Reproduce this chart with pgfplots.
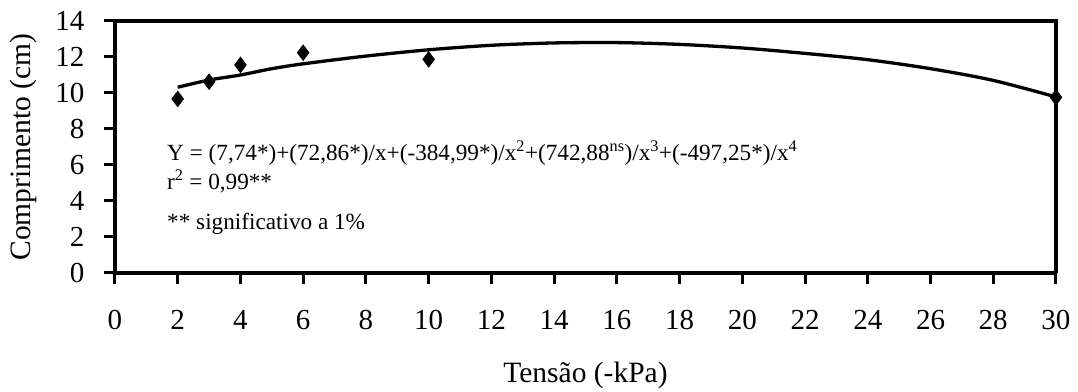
\documentclass[border=0pt]{standalone}
\usepackage{pgfplots}
\pgfplotsset{compat=1.18}
\usepackage{fontspec}
\setmainfont{Liberation Serif}
\begin{document}
\begin{tikzpicture}
\begin{axis}[
  scale only axis=true,
  width=941bp, height=252bp,
  xmin=0, xmax=30, ymin=0, ymax=14,
  xtick={0,2,...,30}, ytick={0,2,...,14},
  tick align=outside,
  major tick length=11bp,
  axis line style={line width=3.5bp},
  every tick/.style={line width=3bp, black},
  tick style={line width=3bp, black},
  axis x line*=bottom,
  axis y line*=left,
  /pgf/number format/assume math mode=true,
  ticklabel style={font=\fontsize{29bp}{33bp}\selectfont},
  xticklabel style={yshift=-23bp},
  yticklabel style={xshift=-16bp},
  xlabel={Tensão (-kPa)},
  ylabel={Comprimento (cm)},
  label style={font=\fontsize{29.5bp}{34bp}\selectfont},
  xlabel style={yshift=-25bp},
  ylabel style={yshift=12bp},
  clip=false,
]
\draw[line width=3.5bp] (rel axis cs:0,1) -- (rel axis cs:1,1) -- (rel axis cs:1,0);
\addplot[black, line width=3.3bp, smooth, tension=0.5] coordinates {
(2,10.32) (3,10.72) (4,11.0) (5,11.35) (6,11.62) (8,12.05) (10,12.4) (12,12.65)
(14,12.78) (16,12.8) (18,12.7) (20,12.5) (22,12.2) (24,11.85) (26,11.35) (28,10.7) (30,9.78)
};
\addplot[only marks, mark=diamond*, mark size=8bp, black] coordinates {
(2,9.67) (3,10.63) (4,11.56) (6,12.24) (10,11.87) (30,9.76)
};
\node[anchor=west, inner sep=0pt, font=\fontsize{23.2bp}{27bp}\selectfont] at (axis cs:1.66,6.67)
  {Y = (7,74*)+(72,86*)/x+(-384,99*)/x\textsuperscript{2}+(742,88\textsuperscript{ns})/x\textsuperscript{3}+(-497,25*)/x\textsuperscript{4}};
\node[anchor=west, inner sep=0pt, font=\fontsize{23.2bp}{27bp}\selectfont] at (axis cs:1.66,5.11)
  {r\textsuperscript{2} = 0,99**};
\node[anchor=west, inner sep=0pt, font=\fontsize{23.2bp}{27bp}\selectfont] at (axis cs:1.66,2.72)
  {** significativo a 1\%};
\coordinate (bbA) at (rel axis cs:-0.1222,-0.468);
\coordinate (bbB) at (rel axis cs:1.0234,1.0833);
\end{axis}
\path (bbA) rectangle (bbB);
\end{tikzpicture}
\end{document}
